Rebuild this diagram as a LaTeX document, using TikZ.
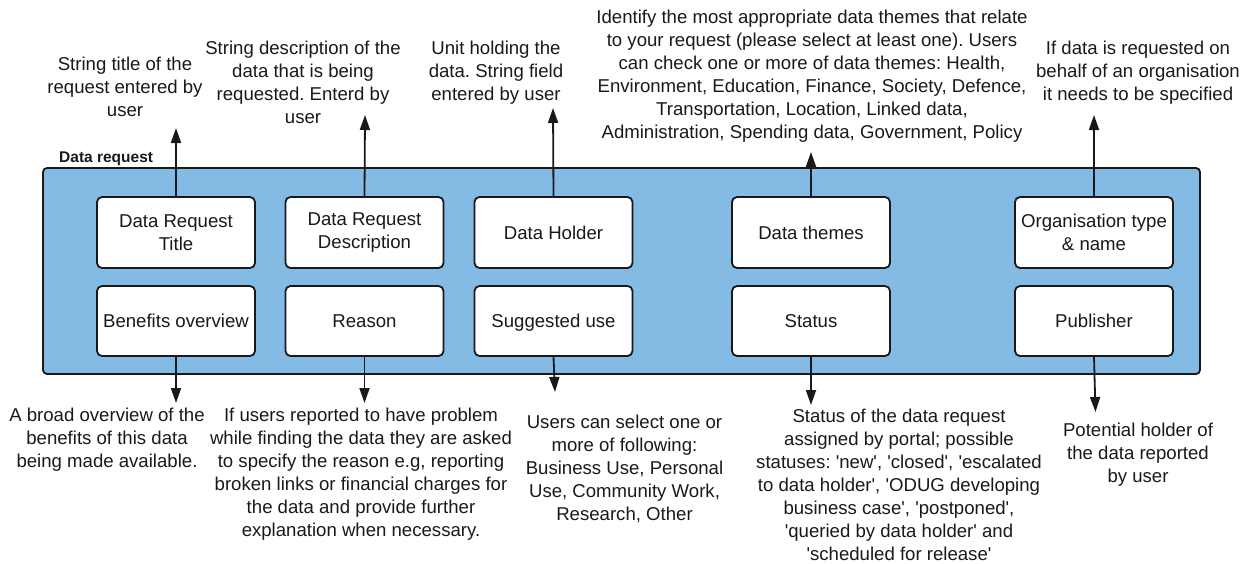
\documentclass[tikz,border=0pt]{standalone}
\usepackage{fontspec}
\setmainfont{Liberation Sans}
\usetikzlibrary{arrows.meta}
\definecolor{drblue}{RGB}{132,187,228}
\definecolor{ink}{RGB}{25,25,25}
\newcommand\lblfont{\fontsize{18.6}{23}\selectfont\frenchspacing}
\newcommand\q{\textquotesingle}
\tikzset{
  container/.style={draw=ink, line width=1.8pt, fill=drblue, rounded corners=4pt, inner sep=0pt},
  fieldbox/.style={draw=ink, line width=1.8pt, fill=white, rounded corners=5pt, minimum width=158pt, inner sep=0pt, align=center, font=\lblfont, text=ink},
  toprow/.style={fieldbox, minimum height=71pt},
  botrow/.style={fieldbox, minimum height=70pt},
  lbl/.style={font=\lblfont, align=center, inner sep=0pt, anchor=north, text=ink},
  conn/.style={draw=ink, line width=1.8pt, -{Triangle[length=15pt,width=10pt]}},
}
\begin{document}
\begin{tikzpicture}[x=1pt,y=-1pt]
\useasboundingbox (0,0) rectangle (1251,563);
% container
\node[container, minimum width=1157pt, minimum height=206pt] (dr) at (621.5,271) {};
\node[anchor=base west, inner sep=0pt, font=\fontsize{15.5}{18}\selectfont\bfseries, text=ink] (drlbl) at (59,162.5) {Data request};
% top row
\node[toprow] (title) at (176,232.5) {Data Request\\Title};
\node[toprow] (desc) at (364.5,232.5) {Data Request\\Description};
\node[toprow] (holder) at (553.5,232.5) {Data Holder};
\node[toprow] (themes) at (811,232.5) {Data themes};
\node[toprow] (org) at (1094,232.5) {Organisation type\\\& name};
% bottom row
\node[botrow] (benef) at (176,321) {Benefits overview};
\node[botrow] (reason) at (364.5,321) {Reason};
\node[botrow, text depth=0pt] (use) at (553.5,321) {Suggested use};
\node[botrow] (status) at (811,321) {Status};
\node[botrow] (pub) at (1094,321) {Publisher};
% top labels
\node[lbl] (t1) at (125,57) {String title of the\\request entered by\\user};
\node[lbl] (t2) at (303,41) {String description of the\\data that is being\\requested. Enterd by\\user};
\node[lbl] (t3) at (496,41) {Unit holding the\\data. String field\\entered by user};
\node[lbl] (t4) at (812,10) {Identify the most appropriate data themes that relate\\to your request (please select at least one). Users\\can check one or more of data themes: Health,\\Environment, Education, Finance, Society, Defence,\\Transportation, Location, Linked data,\\Administration, Spending data, Government, Policy};
\node[lbl] (t5) at (1138,41) {If data is requested on\\behalf of an organisation\\it needs to be specified};
% bottom labels
\node[lbl] (l1) at (107,408) {A broad overview of the\\benefits of this data\\being made available.};
\node[lbl] (l2) at (361,408) {If users reported to have problem\\while finding the data they are asked\\to specify the reason e.g, reporting\\broken links or financial charges for\\the data and provide further\\explanation when necessary.};
\node[lbl] (l3) at (624.5,415) {Users can select one or\\more of following:\\Business Use, Personal\\Use, Community Work,\\Research, Other};
\node[lbl] (l4) at (899,409) {Status of the data request\\assigned by portal; possible\\statuses: \q new\q, \q closed\q, \q escalated\\to data holder\q, \q ODUG developing\\business case\q, \q postponed\q,\\\q queried by data holder\q{} and\\\q scheduled for release\q};
\node[lbl] (l5) at (1138,423) {Potential holder of\\the data reported\\by user};
% arrow tips
\coordinate (a1) at (176,128);
\coordinate (a2) at (365,115);
\coordinate (a3) at (553,108);
\coordinate (a4) at (811,152);
\coordinate (a5) at (1094,115);
\coordinate (d1) at (176,403);
\coordinate (d2) at (364.5,403);
\coordinate (d3) at (555,392);
\coordinate (d4) at (811,405);
\coordinate (d5) at (1095.5,412);
% connectors
\draw[conn] (title.north) -- (a1);
\draw[conn] (desc.north) -- (a2);
\draw[conn] (holder.north) -- (a3);
\draw[conn] (themes.north) -- (a4);
\draw[conn] (org.north) -- (a5);
\draw[conn] (benef.south) -- (d1);
\draw[conn] (reason.south) -- (d2);
\draw[conn] (use.south) -- (d3);
\draw[conn] (status.south) -- (d4);
\draw[conn] (pub.south) -- (d5);
\end{tikzpicture}
\end{document}
